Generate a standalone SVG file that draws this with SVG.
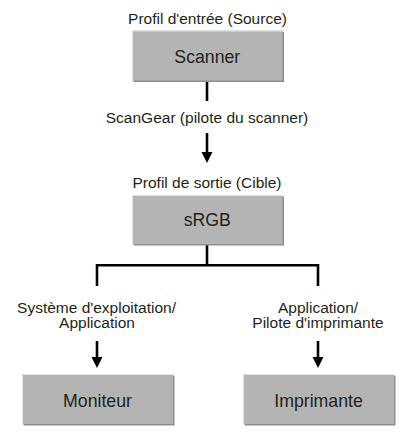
<svg xmlns="http://www.w3.org/2000/svg" width="416" height="446" viewBox="0 0 416 446">
<style>
.lbl{font-family:"Liberation Sans",Arial,sans-serif;font-size:15.5px;fill:#231f20;text-anchor:middle}
.bt{font-family:"Liberation Sans",Arial,sans-serif;font-size:17.7px;fill:#231f20;text-anchor:middle}
.box{fill:#b4b4b4}
.sh{fill:#8f8f8f}
.hl{stroke:#e2e2e2;stroke-width:1;fill:none}
.ln{stroke:#000;stroke-width:2.6;fill:none}
.ah{fill:#000}
</style>
<rect width="416" height="446" fill="#fff"/>
<g id="connectors">
<line class="ln" x1="207" y1="81" x2="207" y2="101"/>
<line class="ln" x1="207" y1="133" x2="207" y2="153"/>
<polygon class="ah" points="201.5,152 212.5,152 207,163"/>
<path class="ln" d="M207,244 V265.3 M97,286 V265.3 H318 V286"/>
<line class="ln" x1="97" y1="341" x2="97" y2="358"/>
<polygon class="ah" points="91.5,357 102.5,357 97,368"/>
<line class="ln" x1="318" y1="341" x2="318" y2="358"/>
<polygon class="ah" points="312.5,357 323.5,357 318,368"/>
</g>
<g id="label-source"><text class="lbl" x="207.5" y="24">Profil d'entrée (Source)</text></g>
<g id="node-scanner">
<rect class="sh" x="133.5" y="32" width="150.5" height="50"/>
<rect class="box" x="132" y="30.5" width="150.5" height="50"/>
<path class="hl" d="M132.5,81 V31 H282.5"/>
<text class="bt" x="207.3" y="63.3">Scanner</text>
</g>
<g id="label-scangear"><text class="lbl" x="207" y="123">ScanGear (pilote du scanner)</text></g>
<g id="label-target"><text class="lbl" x="207" y="188.3">Profil de sortie (Cible)</text></g>
<g id="node-srgb">
<rect class="sh" x="133.5" y="196.5" width="150.5" height="49"/>
<rect class="box" x="132" y="195" width="150.5" height="49"/>
<path class="hl" d="M132.5,244 V195.5 H282.5"/>
<text class="bt" x="207.3" y="225.5">sRGB</text>
</g>
<g id="label-os">
<text class="lbl" x="96.5" y="312.5">Système d'exploitation/</text>
<text class="lbl" x="97" y="328">Application</text>
</g>
<g id="label-app">
<text class="lbl" x="318" y="312.5">Application/</text>
<text class="lbl" x="318" y="328">Pilote d'imprimante</text>
</g>
<g id="node-monitor">
<rect class="sh" x="23.5" y="375.5" width="151" height="50"/>
<rect class="box" x="22" y="374" width="151" height="50"/>
<path class="hl" d="M22.5,424 V374.5 H173"/>
<text class="bt" x="97.5" y="406.5">Moniteur</text>
</g>
<g id="node-printer">
<rect class="sh" x="244.5" y="375.5" width="151" height="50"/>
<rect class="box" x="243" y="374" width="151" height="50"/>
<path class="hl" d="M243.5,424 V374.5 H394"/>
<text class="bt" x="318.5" y="406.5">Imprimante</text>
</g>
</svg>
